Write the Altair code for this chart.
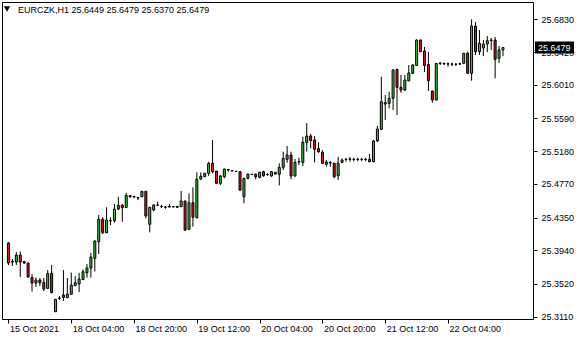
import altair as alt
import pandas as pd

symbol = "EURCZK,H1"

opens = [25.4030, 25.3799, 25.3792, 25.3880, 25.3799, 25.3780, 25.3598, 25.3529, 25.3567, 25.3536,
         25.3463, 25.3651, 25.3170, 25.3335, 25.3379, 25.3348, 25.3388, 25.3496, 25.3517, 25.3573,
         25.3658, 25.3717, 25.3839, 25.4047, 25.4327, 25.4159, 25.4306, 25.4310, 25.4456, 25.4503,
         25.4475, 25.4623, 25.4613, 25.4600, 25.4610, 25.4678, 25.4265, 25.4444, 25.4506, 25.4488,
         25.4481, 25.4488, 25.4485, 25.4490, 25.4485, 25.4557, 25.4202, 25.4535, 25.4347, 25.4832,
         25.4861, 25.4903, 25.5029, 25.4932, 25.4778, 25.4861, 25.4951, 25.4936, 25.4929, 25.4924,
         25.4610, 25.4841, 25.4891, 25.4891, 25.4853, 25.4924, 25.4891, 25.4870, 25.4895, 25.4891,
         25.4979, 25.5079, 25.5133, 25.4870, 25.5045, 25.5041, 25.5292, 25.5371, 25.5321, 25.5214,
         25.5166, 25.5016, 25.5039, 25.5029, 25.4873, 25.5041, 25.5079, 25.5083, 25.5079, 25.5079,
         25.5076, 25.5079, 25.5079, 25.5049, 25.5308, 25.5455, 25.5771, 25.5780, 25.5843, 25.6206,
         25.5981, 25.5947, 25.6060, 25.6156, 25.6254, 25.6573, 25.6435, 25.6266, 25.5934, 25.5822,
         25.6285, 25.6279, 25.6275, 25.6272, 25.6270, 25.6275, 25.6281, 25.6406, 25.6156, 25.6748,
         25.6427, 25.6473, 25.6523, 25.6573, 25.6573, 25.6344, 25.6449]
highs = [25.4043, 25.3830, 25.3918, 25.3924, 25.3805, 25.3786, 25.3642, 25.3598, 25.3592, 25.3592,
         25.3692, 25.3755, 25.3329, 25.3367, 25.3692, 25.3592, 25.3661, 25.3617, 25.3658, 25.3701,
         25.3767, 25.3905, 25.4062, 25.4381, 25.4356, 25.4478, 25.4352, 25.4519, 25.4610, 25.4519,
         25.4660, 25.4632, 25.4623, 25.4610, 25.4682, 25.4682, 25.4481, 25.4519, 25.4548, 25.4506,
         25.4494, 25.4519, 25.4490, 25.4494, 25.4682, 25.4557, 25.4653, 25.4728, 25.4916, 25.4916,
         25.4911, 25.5049, 25.5321, 25.4932, 25.4882, 25.4964, 25.4954, 25.4941, 25.4932, 25.4932,
         25.4841, 25.4903, 25.4895, 25.4903, 25.4924, 25.4936, 25.4903, 25.4932, 25.4920, 25.5029,
         25.5174, 25.5245, 25.5174, 25.5083, 25.5099, 25.5362, 25.5533, 25.5396, 25.5371, 25.5292,
         25.5195, 25.5070, 25.5058, 25.5036, 25.5111, 25.5091, 25.5095, 25.5108, 25.5099, 25.5099,
         25.5099, 25.5099, 25.5145, 25.5321, 25.5496, 25.6113, 25.5884, 25.5925, 25.6206, 25.6206,
         25.6135, 25.6135, 25.6260, 25.6272, 25.6579, 25.6579, 25.6485, 25.6423, 25.5941, 25.6285,
         25.6297, 25.6291, 25.6291, 25.6291, 25.6285, 25.6291, 25.6410, 25.6427, 25.6832, 25.6798,
         25.6698, 25.6573, 25.6623, 25.6598, 25.6611, 25.6498, 25.6479]
lows = [25.3755, 25.3742, 25.3755, 25.3605, 25.3767, 25.3592, 25.3423, 25.3479, 25.3492, 25.3429,
        25.3454, 25.3400, 25.3166, 25.3317, 25.3304, 25.3338, 25.3388, 25.3496, 25.3417, 25.3567,
        25.3596, 25.3598, 25.3674, 25.3893, 25.4143, 25.4156, 25.4256, 25.4285, 25.4444, 25.4297,
        25.4475, 25.4598, 25.4590, 25.4569, 25.4610, 25.4340, 25.4164, 25.4428, 25.4494, 25.4469,
        25.4460, 25.4478, 25.4478, 25.4475, 25.4485, 25.4181, 25.4202, 25.4235, 25.4340, 25.4820,
        25.4861, 25.4870, 25.4903, 25.4776, 25.4757, 25.4841, 25.4924, 25.4929, 25.4920, 25.4682,
        25.4528, 25.4828, 25.4882, 25.4828, 25.4841, 25.4861, 25.4873, 25.4861, 25.4888, 25.4751,
        25.4945, 25.5036, 25.4828, 25.4861, 25.5007, 25.4995, 25.5174, 25.5217, 25.5041, 25.5161,
        25.5020, 25.4986, 25.4986, 25.4841, 25.4820, 25.5029, 25.5049, 25.5049, 25.5054, 25.5054,
        25.5054, 25.5054, 25.5041, 25.5041, 25.5299, 25.5446, 25.5571, 25.5718, 25.5696, 25.5634,
        25.5913, 25.5934, 25.6060, 25.6147, 25.6247, 25.6423, 25.6172, 25.5934, 25.5788, 25.5815,
        25.6260, 25.6260, 25.6241, 25.6247, 25.6247, 25.6260, 25.6279, 25.6153, 25.6063, 25.6385,
        25.6385, 25.6373, 25.6423, 25.6448, 25.6093, 25.6285, 25.6370]
closes = [25.3780, 25.3792, 25.3880, 25.3792, 25.3780, 25.3605, 25.3529, 25.3567, 25.3533, 25.3454,
          25.3646, 25.3410, 25.3325, 25.3342, 25.3348, 25.3392, 25.3504, 25.3533, 25.3580, 25.3671,
          25.3717, 25.3855, 25.4056, 25.4327, 25.4159, 25.4319, 25.4312, 25.4453, 25.4503, 25.4473,
          25.4628, 25.4610, 25.4607, 25.4594, 25.4678, 25.4369, 25.4478, 25.4506, 25.4503, 25.4485,
          25.4478, 25.4481, 25.4483, 25.4478, 25.4557, 25.4193, 25.4535, 25.4352, 25.4828, 25.4866,
          25.4903, 25.5026, 25.4924, 25.4778, 25.4870, 25.4957, 25.4945, 25.4934, 25.4926, 25.4694,
          25.4841, 25.4891, 25.4888, 25.4861, 25.4916, 25.4873, 25.4888, 25.4924, 25.4916, 25.4979,
          25.5091, 25.5133, 25.4870, 25.5041, 25.5049, 25.5292, 25.5371, 25.5314, 25.5204, 25.5174,
          25.5029, 25.5045, 25.5032, 25.4861, 25.5029, 25.5070, 25.5076, 25.5079, 25.5076, 25.5076,
          25.5079, 25.5076, 25.5049, 25.5308, 25.5458, 25.5800, 25.5788, 25.5843, 25.6197, 25.5981,
          25.5947, 25.6072, 25.6160, 25.6260, 25.6573, 25.6427, 25.6254, 25.6063, 25.5822, 25.6279,
          25.6279, 25.6275, 25.6272, 25.6270, 25.6269, 25.6272, 25.6406, 25.6156, 25.6748, 25.6427,
          25.6532, 25.6523, 25.6564, 25.6567, 25.6331, 25.6448, 25.6479]

time_ticks = [0, 16, 32, 48, 64, 80, 96, 112]
time_labels = ["15 Oct 2021", "18 Oct 04:00", "18 Oct 20:00", "19 Oct 12:00",
               "20 Oct 04:00", "20 Oct 20:00", "21 Oct 12:00", "22 Oct 04:00"]
price_ticks = [25.3110, 25.3520, 25.3940, 25.4350, 25.4770, 25.5180,
               25.5590, 25.6010, 25.6420, 25.6830]

GREEN = "#3cc83c"
RED = "#e01414"
FONT = "Liberation Sans"

df = pd.DataFrame({"i": list(range(len(opens))), "open": opens, "high": highs,
                   "low": lows, "close": closes})
df["body_lo"] = df[["open", "close"]].min(axis=1)
df["body_hi"] = df[["open", "close"]].max(axis=1)
df["dir"] = ["up" if c >= o else "down" for o, c in zip(opens, closes)]

label_map = "{" + ",".join(f"'{t}':'{l}'" for t, l in zip(time_ticks, time_labels)) + "}"

xscale = alt.Scale(domain=[-0.375, 132.375], nice=False, zero=False)
yscale = alt.Scale(domain=[25.3079, 25.7049], nice=False, zero=False)

xaxis = alt.Axis(values=time_ticks, labelExpr=f"{label_map}[datum.value]", grid=False,
                 domain=False, ticks=True, tickSize=4, tickColor="black",
                 labelAlign="left", labelBaseline="top", labelPadding=1, labelOffset=1,
                 labelFont=FONT, labelFontSize=9, labelColor="black", title=None,
                 labelOverlap=False, labelFlush=False)
yaxis = alt.Axis(orient="right", values=price_ticks, format=".4f", grid=False,
                 domain=False, tickSize=4, tickColor="black", labelPadding=4,
                 labelFont=FONT, labelFontSize=9, labelColor="black", title=None,
                 labelOverlap=False, labelFlush=False)

X = alt.X("i:Q", scale=xscale, axis=xaxis)

base = alt.Chart(df)

wicks = base.mark_rule(color="black", strokeWidth=1).encode(
    x=X,
    y=alt.Y("low:Q", scale=yscale, axis=yaxis),
    y2="high:Q",
)

bodies = base.mark_bar(width=2, stroke="black", strokeWidth=1).encode(
    x=X,
    y=alt.Y("body_lo:Q", scale=yscale, axis=yaxis),
    y2="body_hi:Q",
    color=alt.Color("dir:N", scale=alt.Scale(domain=["up", "down"], range=[GREEN, RED]),
                    legend=None),
)

last = pd.DataFrame({"close": [closes[-1]], "label": [f"{closes[-1]:.4f}"]})
box = alt.Chart(last).mark_rect(color="black", yOffset=-6, y2Offset=6).encode(
    x=alt.value(533), x2=alt.value(572),
    y=alt.Y("close:Q", scale=yscale, axis=yaxis), y2="close:Q",
)
box_text = alt.Chart(last).mark_text(color="white", align="left", baseline="middle",
                                     font=FONT, fontSize=9).encode(
    x=alt.value(536), y=alt.Y("close:Q", scale=yscale, axis=yaxis), text="label:N",
)

header = pd.DataFrame({"text": [f"{symbol}  {opens[-1]:.4f} {highs[-1]:.4f} {lows[-1]:.4f} {closes[-1]:.4f}"]})
header_text = alt.Chart(header).mark_text(align="left", baseline="middle", font=FONT,
                                          fontSize=9, color="black").encode(
    x=alt.value(16), y=alt.value(8), text="text:N")
triangle = alt.Chart(header).mark_point(shape="triangle-down", filled=True, color="black",
                                        size=40, opacity=1).encode(
    x=alt.value(5), y=alt.value(7))

chart = alt.layer(wicks, bodies, box, box_text, header_text, triangle).properties(
    width=531, height=317,
    padding={"left": 2, "top": 2, "right": 0, "bottom": 0},
    background="white",
).configure_view(stroke="black", strokeWidth=1)

chart.save("out.html", embed_options={"renderer": "svg", "actions": False})
